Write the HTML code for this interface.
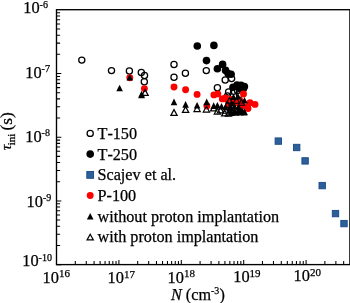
<!DOCTYPE html>
<html><head><meta charset="utf-8"><style>
html,body{margin:0;padding:0;background:#fff;width:350px;height:303px;overflow:hidden}
svg{display:block;will-change:transform}
text{font-family:"Liberation Serif",serif;fill:#000;font-kerning:none;stroke:#000;stroke-width:0.25px}
.tk{font-size:16.4px}
.sp{font-size:10px}
.sp2{font-size:11px}
.sp3{font-size:10px}
.lg{font-size:16.2px}
.ax{font-size:16.2px}
.sub{font-size:10.5px}
</style></head><body>
<svg width="350" height="303" viewBox="0 0 350 303">
<path d="M56.50 264.6V260.00M75.28 264.6V261.00M86.27 264.6V261.00M94.07 264.6V261.00M100.12 264.6V261.00M105.06 264.6V261.00M109.23 264.6V261.00M112.85 264.6V261.00M116.04 264.6V261.00M118.90 264.6V260.00M137.68 264.6V261.00M148.67 264.6V261.00M156.47 264.6V261.00M162.52 264.6V261.00M167.46 264.6V261.00M171.63 264.6V261.00M175.25 264.6V261.00M178.44 264.6V261.00M181.30 264.6V260.00M200.08 264.6V261.00M211.07 264.6V261.00M218.87 264.6V261.00M224.92 264.6V261.00M229.86 264.6V261.00M234.03 264.6V261.00M237.65 264.6V261.00M240.84 264.6V261.00M243.70 264.6V260.00M262.48 264.6V261.00M273.47 264.6V261.00M281.27 264.6V261.00M287.32 264.6V261.00M292.26 264.6V261.00M296.43 264.6V261.00M300.05 264.6V261.00M303.24 264.6V261.00M306.10 264.6V260.00M324.88 264.6V261.00M335.87 264.6V261.00M343.67 264.6V261.00M56.5 264.60H61.30M56.5 245.42H60.10M56.5 234.21H60.10M56.5 226.25H60.10M56.5 220.08H60.10M56.5 215.03H60.10M56.5 210.77H60.10M56.5 207.07H60.10M56.5 203.81H60.10M56.5 200.90H61.30M56.5 181.72H60.10M56.5 170.51H60.10M56.5 162.55H60.10M56.5 156.38H60.10M56.5 151.33H60.10M56.5 147.07H60.10M56.5 143.37H60.10M56.5 140.11H60.10M56.5 137.20H61.30M56.5 118.02H60.10M56.5 106.81H60.10M56.5 98.85H60.10M56.5 92.68H60.10M56.5 87.63H60.10M56.5 83.37H60.10M56.5 79.67H60.10M56.5 76.41H60.10M56.5 73.50H61.30M56.5 54.32H60.10M56.5 43.11H60.10M56.5 35.15H60.10M56.5 28.98H60.10M56.5 23.93H60.10M56.5 19.67H60.10M56.5 15.97H60.10M56.5 12.71H60.10" stroke="#000" stroke-width="1.05" fill="none"/>
<circle cx="81.8" cy="60.1" r="3.1" fill="none" stroke="#000" stroke-width="1.25"/>
<circle cx="111.5" cy="70.6" r="3.1" fill="none" stroke="#000" stroke-width="1.25"/>
<circle cx="129.4" cy="71.0" r="3.1" fill="none" stroke="#000" stroke-width="1.25"/>
<circle cx="141.3" cy="72.5" r="3.1" fill="none" stroke="#000" stroke-width="1.25"/>
<circle cx="144.5" cy="75.4" r="3.1" fill="none" stroke="#000" stroke-width="1.25"/>
<circle cx="144.3" cy="81.8" r="3.1" fill="none" stroke="#000" stroke-width="1.25"/>
<circle cx="174" cy="64.5" r="3.1" fill="none" stroke="#000" stroke-width="1.25"/>
<circle cx="174" cy="77.3" r="3.1" fill="none" stroke="#000" stroke-width="1.25"/>
<circle cx="185.4" cy="73.2" r="3.1" fill="none" stroke="#000" stroke-width="1.25"/>
<circle cx="206.3" cy="70.6" r="3.1" fill="none" stroke="#000" stroke-width="1.25"/>
<circle cx="225.2" cy="79.9" r="3.1" fill="none" stroke="#000" stroke-width="1.25"/>
<circle cx="231.6" cy="78.6" r="3.1" fill="none" stroke="#000" stroke-width="1.25"/>
<circle cx="217.4" cy="87.8" r="3.1" fill="none" stroke="#000" stroke-width="1.25"/>
<circle cx="228.6" cy="92.0" r="3.1" fill="none" stroke="#000" stroke-width="1.25"/>
<circle cx="233.6" cy="91.2" r="3.1" fill="none" stroke="#000" stroke-width="1.25"/>
<circle cx="237.5" cy="90.6" r="3.1" fill="none" stroke="#000" stroke-width="1.25"/>
<circle cx="239.5" cy="94.5" r="3.1" fill="none" stroke="#000" stroke-width="1.25"/>
<circle cx="227.5" cy="96" r="3.1" fill="none" stroke="#000" stroke-width="1.25"/>
<circle cx="197.3" cy="46.0" r="3.8" fill="#000"/>
<circle cx="213.9" cy="45.4" r="3.8" fill="#000"/>
<circle cx="206.5" cy="60.6" r="3.8" fill="#000"/>
<circle cx="222.6" cy="64.4" r="3.8" fill="#000"/>
<circle cx="217.4" cy="68.7" r="3.8" fill="#000"/>
<circle cx="225.6" cy="70.4" r="3.8" fill="#000"/>
<circle cx="228.1" cy="73.5" r="3.8" fill="#000"/>
<circle cx="231.1" cy="74.3" r="3.8" fill="#000"/>
<circle cx="233.0" cy="87.2" r="3.8" fill="#000"/>
<circle cx="237.1" cy="85.0" r="3.8" fill="#000"/>
<circle cx="241.0" cy="85.3" r="3.8" fill="#000"/>
<circle cx="244.4" cy="86.5" r="3.8" fill="#000"/>
<circle cx="243.5" cy="88.6" r="3.8" fill="#000"/>
<circle cx="239.8" cy="88.0" r="3.8" fill="#000"/>
<circle cx="129.8" cy="77.7" r="3.45" fill="#f00"/>
<circle cx="144.4" cy="88.6" r="3.45" fill="#f00"/>
<circle cx="174" cy="87" r="3.45" fill="#f00"/>
<circle cx="185.6" cy="89.8" r="3.45" fill="#f00"/>
<circle cx="197.1" cy="94.4" r="3.45" fill="#f00"/>
<circle cx="206.9" cy="106.0" r="3.45" fill="#f00"/>
<circle cx="213.9" cy="94.9" r="3.45" fill="#f00"/>
<circle cx="217.8" cy="93.9" r="3.45" fill="#f00"/>
<circle cx="222.3" cy="98.9" r="3.45" fill="#f00"/>
<circle cx="225.2" cy="97.9" r="3.45" fill="#f00"/>
<circle cx="243.5" cy="94.0" r="3.45" fill="#f00"/>
<circle cx="250" cy="102.8" r="3.45" fill="#f00"/>
<circle cx="255" cy="104.4" r="3.45" fill="#f00"/>
<circle cx="248" cy="108.5" r="3.45" fill="#f00"/>
<circle cx="227" cy="99.5" r="3.45" fill="#f00"/>
<circle cx="231" cy="99.5" r="3.45" fill="#f00"/>
<circle cx="235.9" cy="102.5" r="3.45" fill="#f00"/>
<circle cx="240.2" cy="101" r="3.45" fill="#f00"/>
<circle cx="241.2" cy="105" r="3.45" fill="#f00"/>
<circle cx="228.6" cy="104.5" r="3.45" fill="#f00"/>
<circle cx="246" cy="107" r="3.45" fill="#f00"/>
<path d="M119.60 84.70L122.90 91.30L116.30 91.30Z" fill="#000"/>
<path d="M129.80 73.90L133.10 80.50L126.50 80.50Z" fill="#000"/>
<path d="M141.60 90.80L144.90 97.40L138.30 97.40Z" fill="#000"/>
<path d="M141.50 91.70L144.80 98.30L138.20 98.30Z" fill="#000"/>
<path d="M174.00 98.60L177.30 105.20L170.70 105.20Z" fill="#000"/>
<path d="M185.60 101.10L188.90 107.70L182.30 107.70Z" fill="#000"/>
<path d="M197.10 101.90L200.40 108.50L193.80 108.50Z" fill="#000"/>
<path d="M206.70 98.60L210.00 105.20L203.40 105.20Z" fill="#000"/>
<path d="M213.70 102.30L217.00 108.90L210.40 108.90Z" fill="#000"/>
<path d="M217.40 102.00L220.70 108.60L214.10 108.60Z" fill="#000"/>
<path d="M221.50 102.90L224.80 109.50L218.20 109.50Z" fill="#000"/>
<path d="M225.50 103.70L228.80 110.30L222.20 110.30Z" fill="#000"/>
<path d="M229.50 104.90L232.80 111.50L226.20 111.50Z" fill="#000"/>
<path d="M231.00 104.40L234.30 111.00L227.70 111.00Z" fill="#000"/>
<path d="M234.50 107.40L237.80 114.00L231.20 114.00Z" fill="#000"/>
<path d="M231.00 108.90L234.30 115.50L227.70 115.50Z" fill="#000"/>
<path d="M238.50 106.90L241.80 113.50L235.20 113.50Z" fill="#000"/>
<path d="M242.00 106.90L245.30 113.50L238.70 113.50Z" fill="#000"/>
<path d="M244.50 108.40L247.80 115.00L241.20 115.00Z" fill="#000"/>
<path d="M233.50 93.40L236.80 100.00L230.20 100.00Z" fill="#000"/>
<path d="M238.00 92.90L241.30 99.50L234.70 99.50Z" fill="#000"/>
<path d="M231.50 99.90L234.80 106.50L228.20 106.50Z" fill="#000"/>
<path d="M238.50 103.40L241.80 110.00L235.20 110.00Z" fill="#000"/>
<path d="M234.50 102.90L237.80 109.50L231.20 109.50Z" fill="#000"/>
<path d="M244.50 96.90L247.80 103.50L241.20 103.50Z" fill="#000"/>
<path d="M236.00 109.20L239.30 115.80L232.70 115.80Z" fill="#000"/>
<path d="M240.50 108.90L243.80 115.50L237.20 115.50Z" fill="#000"/>
<path d="M244.30 109.00L247.60 115.60L241.00 115.60Z" fill="#000"/>
<path d="M231.50 109.40L234.80 116.00L228.20 116.00Z" fill="#000"/>
<path d="M145.10 89.60L148.25 95.35L141.95 95.35Z" fill="none" stroke="#000" stroke-width="1.2" stroke-linejoin="miter"/>
<path d="M174.00 109.60L177.15 115.35L170.85 115.35Z" fill="none" stroke="#000" stroke-width="1.2" stroke-linejoin="miter"/>
<path d="M185.60 106.60L188.75 112.35L182.45 112.35Z" fill="none" stroke="#000" stroke-width="1.2" stroke-linejoin="miter"/>
<path d="M197.10 105.80L200.25 111.55L193.95 111.55Z" fill="none" stroke="#000" stroke-width="1.2" stroke-linejoin="miter"/>
<path d="M206.40 106.30L209.55 112.05L203.25 112.05Z" fill="none" stroke="#000" stroke-width="1.2" stroke-linejoin="miter"/>
<path d="M213.70 105.20L216.85 110.95L210.55 110.95Z" fill="none" stroke="#000" stroke-width="1.2" stroke-linejoin="miter"/>
<path d="M217.40 108.30L220.55 114.05L214.25 114.05Z" fill="none" stroke="#000" stroke-width="1.2" stroke-linejoin="miter"/>
<path d="M220.50 107.20L223.65 112.95L217.35 112.95Z" fill="none" stroke="#000" stroke-width="1.2" stroke-linejoin="miter"/>
<path d="M224.70 110.20L227.85 115.95L221.55 115.95Z" fill="none" stroke="#000" stroke-width="1.2" stroke-linejoin="miter"/>
<path d="M228.50 110.50L231.65 116.25L225.35 116.25Z" fill="none" stroke="#000" stroke-width="1.2" stroke-linejoin="miter"/>
<path d="M226.00 107.50L229.15 113.25L222.85 113.25Z" fill="none" stroke="#000" stroke-width="1.2" stroke-linejoin="miter"/>
<path d="M229.50 97.50L232.65 103.25L226.35 103.25Z" fill="none" stroke="#000" stroke-width="1.2" stroke-linejoin="miter"/>
<path d="M236.50 97.50L239.65 103.25L233.35 103.25Z" fill="none" stroke="#000" stroke-width="1.2" stroke-linejoin="miter"/>
<path d="M241.50 99.50L244.65 105.25L238.35 105.25Z" fill="none" stroke="#000" stroke-width="1.2" stroke-linejoin="miter"/>
<path d="M227.50 101.50L230.65 107.25L224.35 107.25Z" fill="none" stroke="#000" stroke-width="1.2" stroke-linejoin="miter"/>
<rect x="275.10" y="137.90" width="6.40" height="6.40" fill="#2d5f99" stroke="#184b89" stroke-width="0.9"/>
<rect x="293.50" y="144.30" width="6.40" height="6.40" fill="#2d5f99" stroke="#184b89" stroke-width="0.9"/>
<rect x="301.90" y="157.70" width="6.40" height="6.40" fill="#2d5f99" stroke="#184b89" stroke-width="0.9"/>
<rect x="319.00" y="182.40" width="6.40" height="6.40" fill="#2d5f99" stroke="#184b89" stroke-width="0.9"/>
<rect x="332.30" y="210.40" width="6.40" height="6.40" fill="#2d5f99" stroke="#184b89" stroke-width="0.9"/>
<rect x="340.80" y="220.40" width="6.40" height="6.40" fill="#2d5f99" stroke="#184b89" stroke-width="0.9"/>
<rect x="56.5" y="9.7" width="293.40" height="254.90" fill="none" stroke="#000" stroke-width="1.35"/>
<circle cx="90.2" cy="133.4" r="3.1" fill="none" stroke="#000" stroke-width="1.25"/>
<circle cx="90.2" cy="154.1" r="3.8" fill="#000"/>
<rect x="86.80" y="171.50" width="6.80" height="6.80" fill="#2d5f99" stroke="#184b89" stroke-width="0.9"/>
<circle cx="90.2" cy="195.5" r="3.45" fill="#f00"/>
<path d="M90.20 212.90L93.50 219.50L86.90 219.50Z" fill="#000"/>
<path d="M90.20 234.20L93.35 239.95L87.05 239.95Z" fill="none" stroke="#000" stroke-width="1.2" stroke-linejoin="miter"/>
<text x="97.5" y="138.8" class="lg">T-150</text>
<text x="97.5" y="159.5" class="lg">T-250</text>
<text x="97.5" y="180.3" class="lg">Scajev et al.</text>
<text x="97.5" y="200.9" class="lg">P-100</text>
<text x="97.5" y="221.7" class="lg">without proton implantation</text>
<text x="97.5" y="242.4" class="lg">with proton implantation</text>
<text x="23.2" y="12.6" class="tk">10<tspan class="sp" dy="-5.1">-6</tspan></text>
<text x="25.2" y="77.7" class="tk">10<tspan class="sp" dy="-5.5">-7</tspan></text>
<text x="25.2" y="141.7" class="tk">10<tspan class="sp" dy="-5.5">-8</tspan></text>
<text x="26.5" y="206.9" class="tk">10<tspan class="sp" dy="-5.5">-9</tspan></text>
<text x="22.2" y="265.8" class="tk">10<tspan class="sp" dy="-5.1">-10</tspan></text>
<text x="42.5" y="282.5" class="tk">10<tspan class="sp2" dy="-5.1">16</tspan></text>
<text x="107.6" y="282.9" class="tk">10<tspan class="sp2" dy="-5.1">17</tspan></text>
<text x="167.5" y="282.5" class="tk">10<tspan class="sp2" dy="-5.1">18</tspan></text>
<text x="233.2" y="282.1" class="tk">10<tspan class="sp2" dy="-5.1">19</tspan></text>
<text x="293.6" y="280.9" class="tk">10<tspan class="sp2" dy="-5.1">20</tspan></text>
<text x="171" y="299.7" class="ax"><tspan font-style="italic">N</tspan> (cm<tspan class="sp3" dy="-5.5">-3</tspan><tspan dy="5.5">)</tspan></text>
<g transform="translate(11.7,150.3) rotate(-90)"><text x="0" y="-0.6" style="font-size:15.6px;font-style:italic">τ</text><text x="5.0" y="3.6" style="font-size:11px">ini</text><text x="19.8" y="0" style="font-size:17.4px">(s)</text></g>
</svg>
</body></html>
